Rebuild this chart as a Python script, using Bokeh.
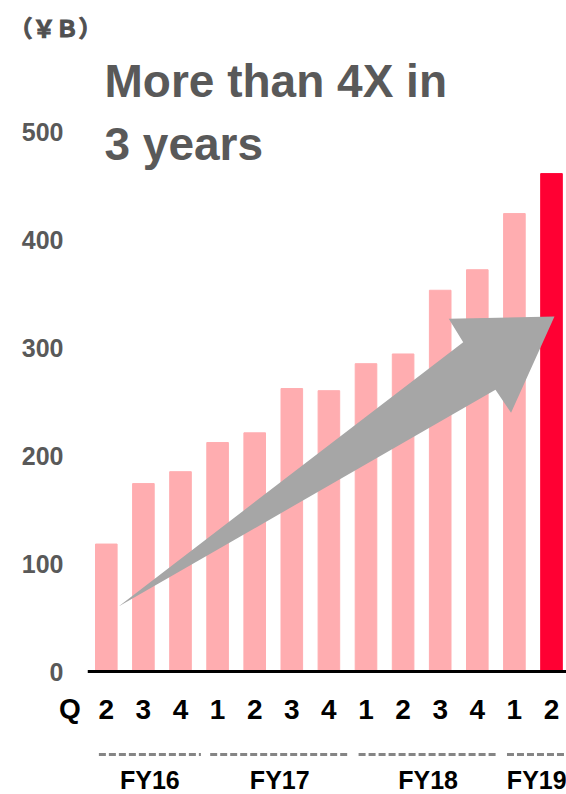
from bokeh.plotting import figure
from bokeh.models import Range1d, ColumnDataSource
from bokeh.core.properties import value
from bokeh.embed import file_html
from bokeh.resources import INLINE

# Quarterly revenue, ¥ billions
quarters = ["2", "3", "4", "1", "2", "3", "4", "1", "2", "3", "4", "1", "2"]
revenue = [118, 174, 185, 212, 221, 262, 260, 285, 294, 353, 372, 424, 461]
fiscal_years = ["FY16", "FY17", "FY18", "FY19"]
quarters_per_year = [3, 4, 4, 2]
y_ticks = [0, 100, 200, 300, 400, 500]
unit_label = "（￥Ｂ）"
quarter_caption = "Q"
headline = ["More than 4X in", "3 years"]

# ---- layout (pixels on the page) ----
W, H = 566, 794
ZERO_PX = 671          # row of value 0
PX_PER_UNIT = 1.08     # pixels per ¥1B
STEP_PX = 37.1         # distance between bar centres
FIRST_PX = 105.8       # centre of the first bar


def xd(px):
    return (px - FIRST_PX) / STEP_PX


def yd(px):
    return (ZERO_PX - px) / PX_PER_UNIT


FONT = "Liberation Sans"
GREY_TEXT = "#595959"
BAR = "#FFADB0"
HIGHLIGHT = "#FF0033"
ARROW = "#A6A6A6"

p = figure(width=W, height=H,
           x_range=Range1d(xd(0), xd(W)),
           y_range=Range1d(yd(H), yd(0)),
           output_backend="svg", toolbar_location=None,
           x_axis_location=None, y_axis_location=None,
           min_border=0)
p.outline_line_color = None
p.grid.visible = False
p.background_fill_color = "white"
p.border_fill_color = "white"


def bold_text(**kw):
    kw.setdefault("text_font", value(FONT))
    kw.setdefault("text_font_style", "bold")
    return p.text(**kw)


# value scale labels
bold_text(x=[xd(63)] * len(y_ticks), y=y_ticks, text=[str(t) for t in y_ticks],
          text_align="right", text_baseline="middle",
          text_font_size="25px", text_color=GREY_TEXT)

idx = list(range(len(revenue)))
colors = [BAR] * (len(revenue) - 1) + [HIGHLIGHT]
src = ColumnDataSource(dict(x=idx, top=revenue, color=colors, q=quarters))

p.vbar(x="x", top="top", bottom=0, width=21.6 / STEP_PX, color="color", source=src)

# baseline
p.segment(x0=-0.5, y0=0, x1=len(revenue) - 0.5, y1=0, line_color="black", line_width=3)

# growth arrow
arrow_x = [0.33, 9.62, 9.23, 12.08, 10.91, 10.49]
arrow_y = [60.2, 304.9, 326.6, 328.7, 239.5, 260.8]
p.patch(arrow_x, arrow_y, fill_color=ARROW, line_color=None)

# quarter labels
bold_text(x="x", y=yd(709), text="q", source=src, text_align="center",
          text_baseline="middle", text_font_size="28px", text_color="black")
bold_text(x=[xd(69.5)], y=[yd(708)], text=[quarter_caption], text_align="center",
          text_baseline="middle", text_font_size="28px", text_color="black")

# fiscal-year brackets
starts, ends, mids = [], [], []
first = 0
for n in quarters_per_year:
    last = first + n - 1
    s, e = first - 0.2, last + 0.55
    starts.append(s)
    ends.append(e)
    mids.append((s + min(e, xd(W))) / 2)
    first = last + 1
yb = yd(754)
p.segment(x0=starts, y0=[yb] * len(starts), x1=ends, y1=[yb] * len(starts),
          line_color="#858585", line_width=3, line_dash="7 3")
bold_text(x=mids, y=[yd(779.5)] * len(mids), text=fiscal_years, text_align="center",
          text_baseline="middle", text_font_size="25px", text_color="black")

# headline
bold_text(x=[xd(104)] * len(headline), y=[yd(80), yd(143)], text=headline,
          text_align="left", text_baseline="middle",
          text_font_size="46px", text_color=GREY_TEXT)

# unit (stroked outline thickens the CJK glyphs)
bold_text(x=[xd(9)], y=[yd(26)], text=[unit_label], text_align="left",
          text_baseline="middle", text_font=value("Noto Sans CJK JP"),
          text_font_size="23px", text_color="#505050",
          text_outline_color="#505050")

open("out.html", "w").write(file_html(p, INLINE))
